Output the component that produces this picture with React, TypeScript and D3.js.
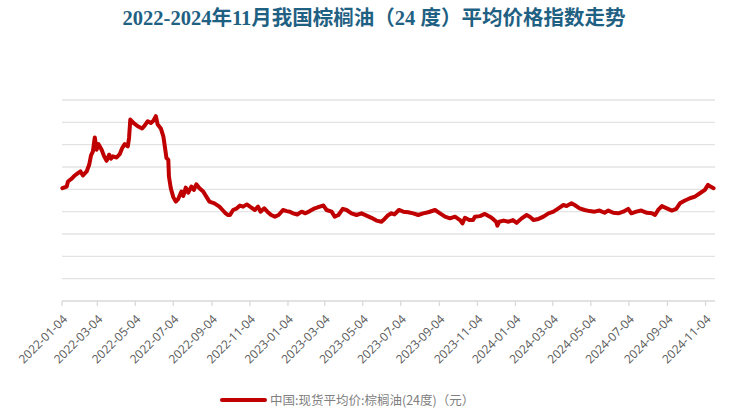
import React, { useRef, useEffect } from "react";
import * as d3 from "d3";

const title = "2022-2024年11月我国棕榈油（24 度）平均价格指数走势";
const seriesName = "中国:现货平均价:棕榈油(24度)（元）";

const tickLabels = [
  "2022-01-04", "2022-03-04", "2022-05-04", "2022-07-04", "2022-09-04", "2022-11-04",
  "2023-01-04", "2023-03-04", "2023-05-04", "2023-07-04", "2023-09-04", "2023-11-04",
  "2024-01-04", "2024-03-04", "2024-05-04", "2024-07-04", "2024-09-04", "2024-11-04",
];

const yTicks = [0, 2000, 4000, 6000, 8000, 10000, 12000, 14000, 16000, 18000];

const dates = [
  "2022-01-07", "2022-01-14", "2022-01-16", "2022-01-22", "2022-01-27", "2022-02-01", "2022-02-05",
  "2022-02-09", "2022-02-15", "2022-02-19", "2022-02-22", "2022-02-25", "2022-02-28", "2022-03-03",
  "2022-03-06", "2022-03-11", "2022-03-15", "2022-03-19", "2022-03-23", "2022-03-26", "2022-03-29",
  "2022-04-04", "2022-04-09", "2022-04-13", "2022-04-17", "2022-04-22", "2022-04-24", "2022-04-26",
  "2022-05-01", "2022-05-08", "2022-05-15", "2022-05-19", "2022-05-24", "2022-05-29", "2022-06-02",
  "2022-06-06", "2022-06-09", "2022-06-14", "2022-06-18", "2022-06-20", "2022-06-23", "2022-06-26",
  "2022-06-27", "2022-06-30", "2022-07-04", "2022-07-08", "2022-07-12", "2022-07-17", "2022-07-20",
  "2022-07-24", "2022-07-28", "2022-08-02", "2022-08-06", "2022-08-10", "2022-08-15", "2022-08-21",
  "2022-08-26", "2022-08-31", "2022-09-08", "2022-09-16", "2022-09-21", "2022-09-26", "2022-09-30",
  "2022-10-03", "2022-10-08", "2022-10-14", "2022-10-19", "2022-10-24", "2022-10-30", "2022-11-04",
  "2022-11-12", "2022-11-17", "2022-11-21", "2022-11-27", "2022-12-02", "2022-12-08", "2022-12-14",
  "2022-12-20", "2022-12-27", "2023-01-02", "2023-01-07", "2023-01-12", "2023-01-19", "2023-01-26",
  "2023-02-01", "2023-02-08", "2023-02-16", "2023-02-24", "2023-03-02", "2023-03-07", "2023-03-15",
  "2023-03-20", "2023-03-26", "2023-04-02", "2023-04-08", "2023-04-16", "2023-04-24", "2023-05-02",
  "2023-05-10", "2023-05-18", "2023-05-26", "2023-06-03", "2023-06-08", "2023-06-13", "2023-06-19",
  "2023-06-24", "2023-07-01", "2023-07-08", "2023-07-16", "2023-07-24", "2023-08-01", "2023-08-09",
  "2023-08-17", "2023-08-28", "2023-09-05", "2023-09-13", "2023-09-21", "2023-09-29", "2023-10-07",
  "2023-10-11", "2023-10-15", "2023-10-22", "2023-10-28", "2023-10-31", "2023-11-08", "2023-11-16",
  "2023-11-24", "2023-11-29", "2023-12-04", "2023-12-06", "2023-12-09", "2023-12-16", "2023-12-24",
  "2023-12-31", "2024-01-06", "2024-01-14", "2024-01-22", "2024-01-27", "2024-02-02", "2024-02-10",
  "2024-02-18", "2024-02-26", "2024-03-05", "2024-03-13", "2024-03-21", "2024-03-26", "2024-04-03",
  "2024-04-08", "2024-04-16", "2024-04-24", "2024-05-02", "2024-05-10", "2024-05-18", "2024-05-26",
  "2024-06-01", "2024-06-09", "2024-06-17", "2024-06-25", "2024-07-03", "2024-07-08", "2024-07-16",
  "2024-07-24", "2024-08-02", "2024-08-10", "2024-08-15", "2024-08-20", "2024-08-26", "2024-09-03",
  "2024-09-11", "2024-09-18", "2024-09-24", "2024-10-02", "2024-10-10", "2024-10-18", "2024-10-26",
  "2024-11-03", "2024-11-08", "2024-11-12", "2024-11-17",
];

const prices = [
  10100, 10250, 10700, 10950, 11240, 11450, 11600,
  11240, 11600, 12200, 13050, 13400, 14650, 13550,
  14050, 13550, 12950, 12550, 13100, 12750, 12950,
  12850, 13150, 13700, 14050, 13850, 14600, 16250,
  15950, 15650, 15450, 15700, 16100, 15950, 16150,
  16550, 15800, 15450, 14750, 14000, 12800, 12650,
  11150, 10100, 9300, 8900, 9150, 9800, 9400,
  10150, 9700, 10250, 9950, 10450, 10100, 9800,
  9350, 8900, 8750, 8450, 8150, 7850, 7700,
  7700, 8150, 8300, 8550, 8450, 8650, 8450,
  8150, 8450, 8000, 8300, 8000, 7700, 7550,
  7700, 8150, 8050, 8000, 7850, 7750, 8000,
  7850, 8050, 8300, 8450, 8550, 8150, 8000,
  7550, 7700, 8250, 8150, 7850, 7700, 7850,
  7650, 7450, 7200, 7100, 7350, 7650, 7850,
  7750, 8150, 8000, 7950, 7850, 7700, 7850,
  7950, 8150, 7850, 7550, 7400, 7550, 7250,
  6950, 7450, 7250, 7250, 7550, 7600, 7800,
  7550, 7350, 7100, 6750, 7100, 7200, 7100,
  7250, 7000, 7400, 7700, 7550, 7250, 7350,
  7550, 7850, 8000, 8300, 8600, 8500, 8750,
  8600, 8300, 8150, 8050, 8000, 8100, 7900,
  8100, 7900, 7850, 8000, 8250, 7850, 8000,
  8100, 7900, 7850, 7700, 8150, 8500, 8300,
  8100, 8250, 8750, 9000, 9200, 9350, 9650,
  9950, 10400, 10250, 10100,
];

const App = () => {
  const chartRef = useRef(null);

  useEffect(() => {
    document.body.style.margin = "0";
    const width = 750;
    const height = 418;
    const parse = d3.timeParse("%Y-%m-%d");
    const data = dates.map((d, i) => ({ date: parse(d), value: prices[i] }));

    d3.select(chartRef.current).selectAll("svg").remove();

    const svg = d3
      .select(chartRef.current)
      .append("svg")
      .attr("width", width)
      .attr("height", height)
      .style("display", "block")
      .style("background", "#fff");

    const x = d3.scaleTime().domain([parse("2022-01-04"), parse("2024-11-04")]).range([60.5, 705.5]);
    const y = d3.scaleLinear().domain([0, 18000]).range([301, 100]);
    const plotLeft = 62;
    const plotRight = 715;

    // title
    svg.append("text")
      .attr("x", 374)
      .attr("y", 25)
      .attr("text-anchor", "middle")
      .style("font-family", "'Liberation Serif', 'Noto Sans CJK SC', serif")
      .style("font-size", "20.5px")
      .style("font-weight", "bold")
      .style("fill", "#1f6183")
      .text(title);

    // grid lines
    svg.append("g")
      .selectAll("line")
      .data(yTicks.filter(t => t > 0))
      .enter()
      .append("line")
      .attr("x1", plotLeft)
      .attr("x2", plotRight)
      .attr("y1", d => y(d))
      .attr("y2", d => y(d))
      .style("stroke", "#e3e3e3")
      .style("stroke-width", 1.3);

    // x axis
    const ticks = tickLabels.map(t => parse(t));
    const axis = svg.append("g").attr("transform", `translate(0, ${y(0)})`);
    axis.append("line")
      .attr("x1", plotLeft)
      .attr("x2", plotRight)
      .style("stroke", "#d9d9d9")
      .style("stroke-width", 1.3);
    axis.selectAll(".tick")
      .data(ticks)
      .enter()
      .append("line")
      .attr("x1", d => Math.max(x(d), plotLeft))
      .attr("x2", d => Math.max(x(d), plotLeft))
      .attr("y1", 0)
      .attr("y2", 5)
      .style("stroke", "#d9d9d9")
      .style("stroke-width", 1.3);
    axis.selectAll(".lbl")
      .data(tickLabels)
      .enter()
      .append("text")
      .attr("transform", (d, i) => `translate(${Math.max(x(ticks[i]), plotLeft) + 6}, 19) rotate(-45)`)
      .attr("text-anchor", "end")
      .style("font-family", "'Open Sans', 'Liberation Sans', sans-serif")
      .style("font-size", "12px")
      .style("fill", "#595959")
      .text(d => d);

    // price line
    const line = d3.line().x(d => x(d.date)).y(d => y(d.value)).curve(d3.curveLinear);
    svg.append("path")
      .datum(data)
      .attr("d", line)
      .style("fill", "none")
      .style("stroke", "#c00000")
      .style("stroke-width", 4)
      .style("stroke-linejoin", "round")
      .style("stroke-linecap", "round");

    // legend
    const legend = svg.append("g").attr("transform", "translate(222, 400)");
    legend.append("line")
      .attr("x1", 0)
      .attr("x2", 43)
      .style("stroke", "#c00000")
      .style("stroke-width", 4)
      .style("stroke-linecap", "round");
    legend.append("text")
      .attr("x", 48)
      .attr("y", 4.5)
      .style("font-family", "'Noto Sans CJK SC', sans-serif")
      .style("font-size", "12.5px")
      .style("fill", "#808080")
      .text(seriesName);
  }, []);

  return <div ref={chartRef}></div>;
};

export default App;
